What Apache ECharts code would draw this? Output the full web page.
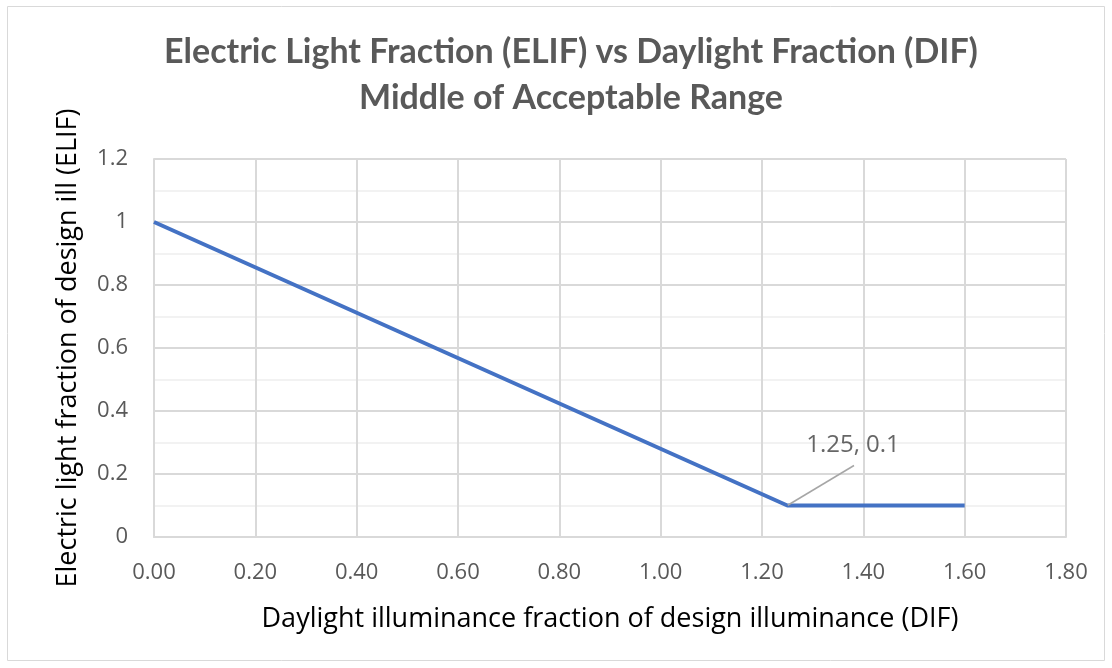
<!DOCTYPE html>
<html><head><meta charset="utf-8">
<script src="https://cdn.jsdelivr.net/npm/echarts@6/dist/echarts.min.js"></script>
<style>html,body{margin:0;padding:0;background:#fff}#c{width:1112px;height:668px}</style>
</head><body><div id="c"></div>
<script>
const titleLines = ['Electric Light Fraction (ELIF) vs Daylight Fraction (DIF)', 'Middle of Acceptable Range'];
const xName = 'Daylight illuminance fraction of design illuminance (DIF)';
const yName = 'Electric light fraction of design ill (ELIF)';
const difValues = [0, 1.25, 1.6];
const elifValues = [1, 0.1, 0.1];
const labelIndex = 1;
const labelText = '1.25, 0.1';

const FONT = '"Open Sans"';
const labelPoint = [[difValues[labelIndex], elifValues[labelIndex]]];
const chart = echarts.init(document.getElementById('c'));
chart.setOption({
  animation: false,
  graphic: [{ type: 'rect', shape: { x: 7.5, y: 6.5, width: 1097, height: 654 }, style: { fill: 'none', stroke: '#d9d9d9', lineWidth: 1 }, silent: true }],
  title: {
    text: titleLines.join('\n'), left: 566, textAlign: 'center', top: 24,
    textStyle: { fontFamily: 'Lato', fontWeight: 'bold', fontSize: 34, color: '#595959', lineHeight: 46 }
  },
  grid: { left: 154, right: 46, top: 159, bottom: 131 },
  xAxis: {
    type: 'value', min: 0, max: 1.8, interval: 0.2,
    name: xName, nameLocation: 'middle', nameGap: 69, nameMoveOverlap: false,
    nameTextStyle: { fontFamily: FONT, fontSize: 27, color: '#000' },
    axisLine: { show: true, lineStyle: { color: '#d9d9d9', width: 2 } },
    axisTick: { show: false },
    axisLabel: { fontFamily: FONT, fontSize: 22, color: '#595959', margin: 25, formatter: v => v.toFixed(2) },
    splitLine: { show: true, lineStyle: { color: '#d9d9d9', width: 2 } }
  },
  yAxis: {
    type: 'value', min: 0, max: 1.2, interval: 0.2,
    name: yName, nameLocation: 'middle', nameGap: 72, nameRotate: 90, nameMoveOverlap: false,
    nameTextStyle: { fontFamily: FONT, fontSize: 27, color: '#000' },
    axisLine: { show: true, lineStyle: { color: '#d9d9d9', width: 2 } },
    axisTick: { show: false },
    axisLabel: { fontFamily: FONT, fontSize: 22, color: '#595959', margin: 26, formatter: v => String(+v.toFixed(1)) },
    splitLine: { show: true, lineStyle: { color: '#d9d9d9', width: 2 } },
    minorTick: { show: false, splitNumber: 2 },
    minorSplitLine: { show: true, lineStyle: { color: '#f2f2f2', width: 2 } }
  },
  series: [{
    type: 'line', data: difValues.map((x, i) => [x, elifValues[i]]), symbol: 'none',
    lineStyle: { color: '#4472C4', width: 4 },
    z: 3
  }, {
    // leader line
    type: 'scatter', data: labelPoint,
    symbolSize: 1, itemStyle: { color: 'rgba(0,0,0,0)' },
    label: { show: true, formatter: ' ', position: 'inside', fontSize: 1, color: 'rgba(0,0,0,0)' },
    labelLine: { show: true, lineStyle: { color: '#a6a6a6', width: 1.5 } },
    labelLayout: { x: 854, y: 465, align: 'center', verticalAlign: 'middle' },
    z: 4
  }, {
    // label text
    type: 'scatter', data: labelPoint,
    symbolSize: 1, itemStyle: { color: 'rgba(0,0,0,0)' },
    label: { show: true, formatter: labelText, position: 'inside', fontFamily: FONT, fontSize: 24, color: '#404040' },
    labelLayout: { x: 853, y: 445, align: 'center', verticalAlign: 'middle' },
    z: 4
  }]
});
</script></body></html>
